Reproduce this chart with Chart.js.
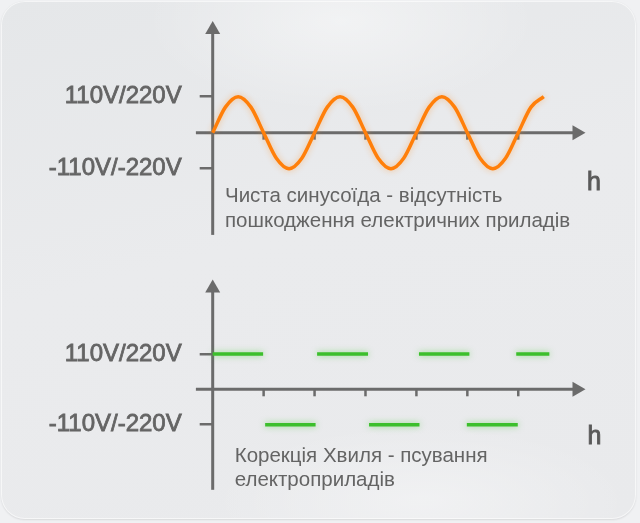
<!DOCTYPE html>
<html>
<head>
<meta charset="utf-8">
<script src="https://cdn.jsdelivr.net/npm/chart.js@4/dist/chart.umd.min.js"></script>
<style>
  html, body { margin: 0; padding: 0; width: 640px; height: 523px; overflow: hidden; background: #f0f1f3; }
  #card {
    position: absolute; left: 1px; top: 1px; width: 635px; height: 518px;
    border-radius: 24px; overflow: hidden;
    background:
      radial-gradient(ellipse 280px 130px at 340px 20px, rgba(255,255,255,0.45), rgba(255,255,255,0) 70%),
      radial-gradient(ellipse 300px 110px at 420px 500px, rgba(255,255,255,0.35), rgba(255,255,255,0) 70%),
      linear-gradient(165deg, #e5e7e9 0%, #eaebed 45%, #e9eaec 100%);
    box-shadow: 0 1px 2px rgba(0,0,0,0.10), inset 0 0 0 1px rgba(255,255,255,0.6);
  }
  .panel { position: absolute; left: 0; width: 640px; }
  #panelSine { top: 0; height: 260px; }
  #panelPulse { top: 260px; height: 263px; }
</style>
</head>
<body>
<div id="card"></div>
<div class="panel" id="panelSine"><canvas id="sineChart"></canvas></div>
<div class="panel" id="panelPulse"><canvas id="pulseChart"></canvas></div>
<script>
// Voltage levels marked on the vertical axis (in units of the peak voltage)
const yTickValues = [-1, 1];
const yTickLabels = ['-110V/-220V', '110V/220V'];

// Small ticks along the time axis (in half-periods)
const xTickValues = [1, 2, 3, 4, 5, 6];
const axisUnitLabel = 'h';

// Pure sine wave: sample positions (half-periods) and relative voltage
const sineX = [0, 0.25, 0.5, 0.75, 1, 1.25, 1.5, 1.75, 2, 2.25, 2.5, 2.75, 3, 3.25,
               3.5, 3.75, 4, 4.25, 4.5, 4.75, 5, 5.25, 5.5, 5.75, 6, 6.25, 6.5];
const sineY = [0, 0.71, 1, 0.71, 0, -0.71, -1, -0.71, 0, 0.71, 1, 0.71, 0, -0.71,
               -1, -0.71, 0, 0.71, 1, 0.71, 0, -0.71, -1, -0.71, 0, 0.71, 1];

// Corrected (stepped) wave: each flat segment's start, end and level
const pulseFrom  = [0, 1.03, 2.05, 3.07, 4.05, 4.99, 5.96];
const pulseTo    = [0.99, 2.02, 3.05, 4.06, 5.04, 5.99, 6.61];
const pulseLevel = [1, -1, 1, -1, 1, -1, 1];

const sineCaption  = ['Чиста синусоїда - відсутність', 'пошкодження електричних приладів'];
const pulseCaption = ['Корекція Хвиля - псування', 'електроприладів'];

const FONT = '"Liberation Sans", Arial, sans-serif';
const AXIS_COLOR = '#6b6b6b';
const TEXT_COLOR = '#646464';

// Draws the two arrowed axes, time ticks, caption and unit label
const axesAndCaption = {
  id: 'axesAndCaption',
  beforeDatasetsDraw(chart, args, opts) {
    const ctx = chart.ctx;
    const xs = chart.scales.x, ys = chart.scales.y;
    const area = chart.chartArea;
    const x0 = xs.getPixelForValue(0);
    const y0 = ys.getPixelForValue(0);
    const head = 13, half = 7.5;
    ctx.save();
    ctx.strokeStyle = AXIS_COLOR;
    ctx.fillStyle = AXIS_COLOR;
    ctx.lineWidth = 3;
    // vertical axis + arrow
    ctx.beginPath();
    ctx.moveTo(x0, area.top + head - 1);
    ctx.lineTo(x0, area.bottom);
    ctx.stroke();
    ctx.beginPath();
    ctx.moveTo(x0, area.top);
    ctx.lineTo(x0 - half, area.top + head);
    ctx.lineTo(x0 + half, area.top + head);
    ctx.closePath();
    ctx.fill();
    // horizontal axis + arrow
    ctx.beginPath();
    ctx.moveTo(xs.getPixelForValue(opts.xStart), y0);
    ctx.lineTo(area.right - head + 1, y0);
    ctx.stroke();
    ctx.beginPath();
    ctx.moveTo(area.right, y0);
    ctx.lineTo(area.right - head, y0 - half);
    ctx.lineTo(area.right - head, y0 + half);
    ctx.closePath();
    ctx.fill();
    // time ticks
    ctx.lineWidth = 2.5;
    xTickValues.forEach(v => {
      const px = xs.getPixelForValue(v);
      ctx.beginPath();
      ctx.moveTo(px, y0);
      ctx.lineTo(px, y0 + 7);
      ctx.stroke();
    });
    // caption
    ctx.fillStyle = TEXT_COLOR;
    ctx.textAlign = 'left';
    ctx.textBaseline = 'alphabetic';
    ctx.font = '20.5px ' + FONT;
    opts.caption.forEach((line, i) => {
      ctx.fillText(line, opts.captionX, opts.captionY[i]);
    });
    // unit label
    ctx.fillStyle = '#5a5a5a';
    ctx.strokeStyle = '#5a5a5a';
    ctx.lineWidth = 0.9;
    ctx.font = '25px ' + FONT;
    ctx.fillText(axisUnitLabel, opts.unitX, opts.unitY);
    ctx.strokeText(axisUnitLabel, opts.unitX, opts.unitY);
    ctx.restore();
  }
};

// Soft glow under the plotted lines
const lineGlow = {
  id: 'lineGlow',
  beforeDatasetDraw(chart, args) {
    const ds = chart.data.datasets[args.index];
    chart.ctx.save();
    chart.ctx.shadowColor = ds.glowColor;
    chart.ctx.shadowBlur = 6;
  },
  afterDatasetDraw(chart) {
    chart.ctx.restore();
  }
};

function yScale() {
  return {
    type: 'linear',
    min: -2.84,
    max: 3.1,
    afterBuildTicks(s) { s.ticks = yTickValues.map(v => ({ value: v })); },
    afterFit(s) { s.width = 212.7; s.paddingTop = 0; s.paddingBottom = 0; },
    grid: { display: true, drawOnChartArea: false, drawTicks: true, tickLength: 13,
            color: AXIS_COLOR, lineWidth: 2.5 },
    border: { display: false },
    ticks: {
      padding: 18,
      color: TEXT_COLOR,
      textStrokeColor: TEXT_COLOR,
      textStrokeWidth: 0.8,
      font: { family: FONT, size: 24 },
      callback: (v) => yTickLabels[yTickValues.indexOf(v)]
    }
  };
}

function xScale() {
  return { type: 'linear', display: false, min: 0, max: 7.32 };
}

function baseOptions(padding, textOpts) {
  return {
    responsive: true,
    maintainAspectRatio: false,
    animation: false,
    devicePixelRatio: 1,
    layout: { padding },
    scales: { x: xScale(), y: yScale() },
    plugins: {
      legend: { display: false },
      tooltip: { enabled: false },
      axesAndCaption: textOpts
    },
    elements: { point: { radius: 0 } }
  };
}

Chart.register(axesAndCaption, lineGlow);

// Pure sine wave
new Chart(document.getElementById('sineChart'), {
  type: 'line',
  data: {
    datasets: [{
      data: sineX.map((x, i) => ({ x, y: sineY[i] })),
      borderColor: '#ff7f0a',
      glowColor: 'rgba(255,140,30,0.45)',
      borderWidth: 3.5,
      cubicInterpolationMode: 'monotone',
      fill: false,
      clip: false
    }]
  },
  options: baseOptions(
    { top: 21.1, bottom: 25.1, left: 0, right: 54.5 },
    { xStart: -0.33, caption: sineCaption, captionX: 225, captionY: [201.5, 227],
      unitX: 587, unitY: 189.5 }
  )
});

// Stepped (corrected) wave, one flat segment per half-period
const pulsePoints = [];
pulseFrom.forEach((from, i) => {
  pulsePoints.push({ x: from, y: pulseLevel[i] });
  pulsePoints.push({ x: pulseTo[i], y: pulseLevel[i] });
  pulsePoints.push({ x: pulseTo[i], y: null });
});

new Chart(document.getElementById('pulseChart'), {
  type: 'line',
  data: {
    datasets: [{
      data: pulsePoints,
      borderColor: '#3cbf2c',
      glowColor: 'rgba(60,200,40,0.5)',
      borderWidth: 3.5,
      borderCapStyle: 'butt',
      spanGaps: false,
      tension: 0,
      fill: false,
      clip: false
    }]
  },
  options: baseOptions(
    { top: 19.6, bottom: 33.2, left: 0, right: 54.5 },
    { xStart: -0.33, caption: pulseCaption, captionX: 234.7, captionY: [201.5, 226],
      unitX: 587.5, unitY: 184 }
  )
});
</script>
</body>
</html>
